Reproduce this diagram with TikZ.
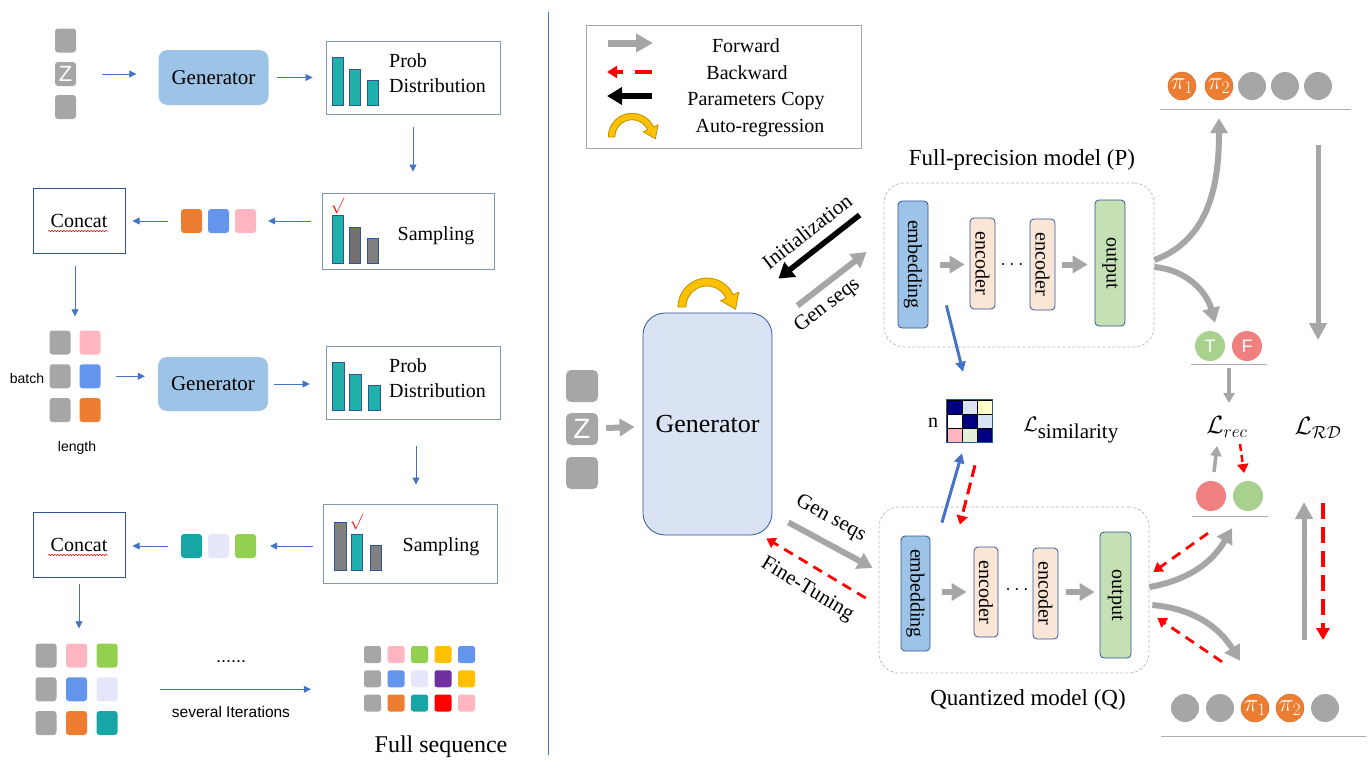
\RequirePackage{fix-cm}
\documentclass[tikz,border=0pt]{standalone}
\usepackage{fontspec}
\setmainfont{Liberation Serif}
\setsansfont{Liberation Sans}
\usetikzlibrary{arrows.meta,calc,decorations.pathmorphing}

\definecolor{flowblue}{HTML}{4472C4}
\definecolor{catblue}{HTML}{2F5597}
\definecolor{boxgray}{HTML}{8497B0}
\definecolor{genfill}{HTML}{9DC3E6}
\definecolor{genlight}{HTML}{DAE3F3}
\definecolor{tgray}{HTML}{A6A6A6}
\definecolor{tpink}{HTML}{FFB6C1}
\definecolor{tblue}{HTML}{6495ED}
\definecolor{torange}{HTML}{ED7D31}
\definecolor{tteal}{HTML}{17A5A5}
\definecolor{tlav}{HTML}{E6E6FA}
\definecolor{tgreen}{HTML}{92D050}
\definecolor{tyellow}{HTML}{FFC000}
\definecolor{tpurple}{HTML}{7030A0}
\definecolor{tred}{HTML}{FF0000}
\definecolor{bteal}{HTML}{20B2AA}
\definecolor{bgray}{HTML}{767171}
\definecolor{fgray}{HTML}{A6A6A6}
\definecolor{argold}{HTML}{FFC000}
\definecolor{encfill}{HTML}{FBE5D6}
\definecolor{outfill}{HTML}{C5E0B4}
\definecolor{tfgreen}{HTML}{A9D18E}
\definecolor{tfred}{HTML}{F08080}
\definecolor{mnavy}{HTML}{000080}
\definecolor{mlblue}{HTML}{DAE3F3}
\definecolor{myellow}{HTML}{FFFFCC}
\definecolor{mlgreen}{HTML}{E2F0D9}

\tikzset{
	tok/.style={rectangle, rounded corners=3pt, minimum width=21pt, minimum height=24pt,
		inner sep=0pt, fill=#1, text=white, font=\sffamily\fontsize{22}{22}\selectfont},
	genbox/.style={rounded corners=9pt, fill=genfill, minimum width=110pt, minimum height=55pt,
		font=\fontsize{21}{24}\selectfont},
	probbox/.style={draw=boxgray, line width=0.9pt, minimum width=174pt, inner sep=0pt},
	catbox/.style={draw=catblue, line width=1pt, minimum width=92pt, minimum height=65pt,
		font=\fontsize{20}{24}\selectfont},
	probbar/.style={draw=catblue, line width=0.8pt},
	lbl/.style={font=\fontsize{20}{25}\selectfont},
	sanslbl/.style={font=\sffamily\fontsize{14}{16}\selectfont},
	flow/.style={draw=flowblue, line width=0.8pt, -{Triangle[length=7pt,width=7pt]}},
	fwd/.style={draw=fgray, line width=#1, -{Triangle[length=15pt,width=17pt]}},
	fwd/.default=6pt,
	backw/.style={draw=red, line width=2.8pt, dash pattern=on 10pt off 7pt,
		-{Triangle[length=9pt,width=11pt]}},
	paramcopy/.style={draw=black, line width=5.5pt, -{Triangle[length=15pt,width=18pt]}},
	simarrow/.style={draw=flowblue, line width=3pt, -{Triangle[length=10pt,width=10pt]}},
	blk/.style={draw=catblue, line width=0.8pt, rounded corners=4pt, inner sep=0pt, fill=#1,
		font=\fontsize{20}{20}\selectfont},
	modelbox/.style={draw=gray!55, dash pattern=on 3pt off 2pt, line width=0.7pt,
		rounded corners=20pt, minimum width=270pt},
	ball/.style={circle, minimum size=28pt, inner sep=0pt, fill=#1, text=white},
	pidot/.style={ball=torange, draw=torange!85!black, font=\fontsize{25}{25}\selectfont},
	tfdot/.style={ball=#1, minimum size=30pt, font=\sffamily\fontsize{18}{18}\selectfont},
	uline/.style={draw=gray!65, line width=0.8pt},
	armlbl/.style={font=\fontsize{21}{21}\selectfont},
	autoreg/.pic={
		\draw[draw=argold!75!black, fill=argold, line width=0.8pt]
		(180:29) arc[start angle=180, end angle=25, radius=29] -- (25:35)
		-- ($(25:25)+(-65:14)$) -- (25:15) -- (25:21)
		arc[start angle=25, end angle=180, radius=21] -- cycle;
	},
}

\begin{document}
\begin{tikzpicture}[x=1pt,y=1pt]
	\useasboundingbox (0,0) rectangle (1370,-771);

	% ---------- left: sampling loop ----------
	\node[tok=tgray] (za1) at (65.5,-40.5) {};
	\node[tok=tgray] (za2) at (65.5,-74) {Z};
	\node[tok=tgray] (za3) at (65.5,-107) {};
	\node[genbox] (gena) at (213.5,-77.5) {Generator};
	\node[probbox, minimum height=73pt] (proba) at (413,-77.5) {};
	\foreach \x/\t in {332/57,349/69,367/80}
		\draw[probbar, fill=bteal] (\x,-\t) rectangle ({\x+11},-105);
	\node[lbl, align=left, anchor=west, inner sep=0pt] at (389,-73.5) {Prob\\Distribution};

	\node[probbox, minimum width=172pt, minimum height=76pt] (sampa) at (408,-231) {};
	\draw[probbar, fill=bteal] (332,-215) rectangle (343,-263);
	\draw[probbar, fill=bgray] (349,-227) rectangle (360,-263);
	\draw[probbar, fill=gray] (367,-238) rectangle (378,-263);
	\node[text=red, font=\fontsize{16}{16}\selectfont] at (337.5,-206) {$\surd$};
	\node[lbl] at (436,-236) {Sampling};

	\foreach \c [count=\i] in {torange,tblue,tpink}
		\node[tok=\c] (ta\i) at ({164.5+27*\i},-221) {};
	\node[catbox] (cata) at (79,-220.5) {Concat};
	\draw[red, line width=0.5pt, decorate, decoration={snake,amplitude=0.7pt,segment length=3pt}]
		(48,-231) -- (108,-231);

	\draw[flow, shorten <=26pt, shorten >=22pt] (za2.east) -- (za2.east -| gena.west);
	\draw[flow, shorten <=8.5pt, shorten >=13pt] (gena.east) -- (proba.west);
	\draw[flow, shorten <=13pt, shorten >=21pt] (proba.south) -- (proba.south |- sampa.north);
	\draw[flow, shorten <=11pt, shorten >=12pt] (sampa.west |- ta3) -- (ta3.east);
	\draw[flow, shorten <=13pt, shorten >=7pt] (ta1.west) -- (ta1.west -| cata.east);

	% ---------- left: second round ----------
	\foreach \row [count=\r from 0] in {{tgray,tpink},{tgray,tblue},{tgray,torange}}
		\foreach \c [count=\k from 0] in \row
			\node[tok=\c] (bg\r\k) at ({60+30*\k},{-342.5-33.75*\r}) {};
	\node[sanslbl] at (27,-378) {batch};
	\node[sanslbl] at (77,-448) {length};
	\draw[flow, shorten <=12pt, shorten >=14pt] ([xshift=-4pt]cata.south) -- ([xshift=-4pt]cata.south |- bg01.north);

	\node[genbox, minimum height=54pt] (genb) at (213,-384) {Generator};
	\node[probbox, minimum height=73pt] (probb) at (413,-382.5) {};
	\foreach \x/\t in {332/362,349/374,368/385}
		\draw[probbar, fill=bteal] (\x,-\t) rectangle ({\x+12},-410);
	\node[lbl, align=left, anchor=west, inner sep=0pt] at (389,-378.5) {Prob\\Distribution};

	\node[probbox, minimum width=174pt, minimum height=79pt] (sampb) at (410,-543.5) {};
	\draw[probbar, fill=gray] (334,-522) rectangle (346,-570);
	\draw[probbar, fill=bteal] (351,-534) rectangle (362,-570);
	\draw[probbar, fill=gray] (370,-545) rectangle (381,-570);
	\node[text=red, font=\fontsize{16}{16}\selectfont] at (356.5,-522) {$\surd$};
	\node[lbl] at (441,-547) {Sampling};

	\foreach \c [count=\i] in {tteal,tlav,tgreen}
		\node[tok=\c] (tb\i) at ({164.5+27*\i},-546) {};
	\node[catbox] (catb) at (79,-544.5) {Concat};
	\draw[red, line width=0.5pt, decorate, decoration={snake,amplitude=0.7pt,segment length=3pt}]
		(48,-555) -- (108,-555);

	\draw[flow, shorten <=15pt, shorten >=13pt] (bg11.east) -- (bg11.east -| genb.west);
	\draw[flow, shorten <=6pt, shorten >=16pt] (genb.east) -- (genb.east -| probb.west);
	\draw[flow, shorten <=27pt, shorten >=19pt] ([xshift=3pt]probb.south) -- ([xshift=3pt]probb.south |- sampb.north);
	\draw[flow, shorten <=10pt, shorten >=14pt] (sampb.west |- tb3) -- (tb3.east);
	\draw[flow, shorten <=13pt, shorten >=7pt] (tb1.west) -- (tb1.west -| catb.east);

	% ---------- left: after several iterations ----------
	\foreach \row [count=\r from 0] in {{tgray,tpink,tgreen},{tgray,tblue,tlav},{tgray,torange,tteal}}
		\foreach \c [count=\k from 0] in \row
			\node[tok=\c] (gc\r\k) at ({46+30.5*\k},{-655.5-33.75*\r}) {};
	\draw[flow, shorten <=6pt, shorten >=15pt] (catb.south) -- (catb.south |- gc01.north);

	\foreach \row [count=\r from 0] in {{tgray,tpink,tgreen,tyellow,tblue},{tgray,tblue,tlav,tpurple,tyellow},{tgray,torange,tteal,tred,tpink}}
		\foreach \c [count=\k from 0] in \row
			\node[tok=\c, minimum width=17pt, minimum height=17pt, rounded corners=2.5pt]
				(fs\r\k) at ({372.5+23.5*\k},{-654.5-24.25*\r}) {};
	\draw[flow, shorten <=42pt, shorten >=53pt] (gc12.east) -- (gc12.east -| fs10.west);
	\node[sanslbl, font=\sffamily\fontsize{18}{18}\selectfont] at (231,-662) {......};
	\node[sanslbl, font=\sffamily\fontsize{15.5}{16}\selectfont] at (231,-712) {several Iterations};
	\node[font=\fontsize{24}{24}\selectfont] at (441,-747) {Full sequence};

	\draw[flowblue, line width=1pt] (548,-12) -- (548,-755);

	% ---------- right: legend ----------
	\node[draw=fgray, line width=1pt, minimum width=275pt, minimum height=123pt] (legend) at (723.5,-86.5) {};
	\draw[fwd=7pt, -{Triangle[length=17pt,width=18pt]}] (608,-43) -- (653,-43);
	\draw[backw, line width=4pt, dash pattern=on 17pt off 12pt, -{Triangle[length=10pt,width=12pt]}] (652,-72) -- (607,-72);
	\draw[paramcopy, line width=6pt, -{Triangle[length=15pt,width=17pt]}] (652,-96) -- (607,-96);
	\pic[scale=0.82] at (632,-137) {autoreg};
	\node[lbl] at (746,-46) {Forward};
	\node[lbl] at (747,-73) {Backward};
	\node[lbl] at (756,-101) {Parameters Copy};
	\node[lbl] at (760,-128) {Auto-regression};

	% ---------- right: generator ----------
	\node[tok=tgray, minimum width=32pt, minimum height=32pt, rounded corners=5pt] (zb1) at (582,-386) {};
	\node[tok=tgray, minimum width=32pt, minimum height=32pt, rounded corners=5pt,
		font=\sffamily\fontsize{28}{28}\selectfont] (zb2) at (582,-429) {Z};
	\node[tok=tgray, minimum width=32pt, minimum height=32pt, rounded corners=5pt] (zb3) at (582,-473) {};
	\node[draw=catblue, line width=0.8pt, fill=genlight, rounded corners=22pt, minimum width=129pt,
		minimum height=222pt, font=\fontsize{26}{26}\selectfont] (gen) at (707.5,-424) {Generator};
	\draw[fwd, shorten <=8pt, shorten >=8pt] (zb2) -- (gen);
	\pic at (707,-307) {autoreg};

	% ---------- right: full-precision model ----------
	\node[font=\fontsize{23}{23}\selectfont] (ptitle) at (1022,-160) {Full-precision model (P)};
	\node[modelbox, minimum height=164pt] (pbox) at (1019,-265) {};
	\node[blk=genfill, minimum width=30pt, minimum height=127pt] (pemb) at (913,-264.5) {\rotatebox{-90}{embedding}};
	\node[blk=encfill, minimum width=25pt, minimum height=91pt] (penc1) at (982.5,-263.5) {\rotatebox{-90}{encoder}};
	\node[font=\fontsize{20}{20}\selectfont] at (1012,-265) {$\cdots$};
	\node[blk=encfill, minimum width=25pt, minimum height=91pt] (penc2) at (1042.5,-264.5) {\rotatebox{-90}{encoder}};
	\node[blk=outfill, minimum width=30pt, minimum height=126pt] (pout) at (1110,-263) {\rotatebox{-90}{output}};
	\draw[fwd, shorten <=12pt, shorten >=5pt] (pemb.east) -- (pemb.east -| penc1.west);
	\draw[fwd, shorten <=7pt, shorten >=7pt] (penc2.east) -- (penc2.east -| pout.west);

	% ---------- right: quantized model ----------
	\node[font=\fontsize{23}{23}\selectfont] (qtitle) at (1028,-700) {Quantized model (Q)};
	\node[modelbox, minimum height=166pt] (qbox) at (1014,-590) {};
	\node[blk=genfill, minimum width=29pt, minimum height=115pt] (qemb) at (915.5,-593.5) {\rotatebox{-90}{embedding}};
	\node[blk=encfill, minimum width=24pt, minimum height=90pt] (qenc1) at (986,-592) {\rotatebox{-90}{encoder}};
	\node[font=\fontsize{20}{20}\selectfont] at (1017,-590) {$\cdots$};
	\node[blk=encfill, minimum width=25pt, minimum height=91pt] (qenc2) at (1045.5,-593.5) {\rotatebox{-90}{encoder}};
	\node[blk=outfill, minimum width=31pt, minimum height=126pt] (qout) at (1115.5,-595) {\rotatebox{-90}{output}};
	\draw[fwd, shorten <=12pt, shorten >=7pt] (qemb.east |- qenc1) -- (qenc1.west);
	\draw[fwd, shorten <=8pt, shorten >=5pt] (qenc2.east |- qenc1) -- (qenc1 -| qout.west);

	% generator <-> models
	\draw[paramcopy] ([shift={(-24,50)}]pbox.west) -- node[sloped, above=6pt, armlbl] {Initialization}
		([shift={(6,34)}]gen.north east);
	\draw[fwd] ([shift={(25,7)}]gen.north east) -- node[sloped, pos=0.27, below=3pt, armlbl] {Gen seqs}
		([shift={(-17,13)}]pbox.west);
	\draw[fwd] ([shift={(16,13)}]gen.south east) -- node[sloped, pos=0.37, above=8pt, armlbl] {Gen seqs}
		([shift={(-6,22)}]qbox.west);
	\draw[backw] ([shift={(-13,-8)}]qbox.west) -- node[sloped, pos=0.47, below=9pt, armlbl] {Fine-Tuning}
		([shift={(-6,-3)}]gen.south east);

	% ---------- similarity matrix ----------
	\node[minimum width=45pt, minimum height=42pt, inner sep=0pt] (sim) at (969.5,-421) {};
	\foreach \row [count=\r from 0] in {{mnavy,mlblue,myellow},{white,mnavy,mlblue},{tpink,mlgreen,mnavy}}
		\foreach \c [count=\k from 0] in \row
			\fill[\c] ({947+15*\k},{-400-14*\r}) rectangle ++(15,-14);
	\draw[black, line width=0.6pt, shift={(947,-442)}] (0,0) grid[xstep=15, ystep=14] (45,42);
	\draw[catblue, line width=1pt] (sim.south west) rectangle (sim.north east);
	\node[lbl] at (933,-423) {n};
	\node[font=\fontsize{21}{21}\selectfont] (lsim) at (1071,-430) {$\mathcal{L}_{\textstyle\mathrm{similarity}}$};
	\draw[simarrow] ([shift={(18,23)}]pemb.south east) -- ([shift={(-6.5,28)}]sim.north);
	\draw[simarrow] ([shift={(11.5,13)}]qemb.north east) -- ([shift={(-7.5,-11)}]sim.south);
	\draw[backw, line width=3pt, dash pattern=on 12pt off 6pt] ([shift={(5.5,-23)}]sim.south) -- ([shift={(29.5,11)}]qemb.north east);

	% ---------- outputs and losses ----------
	\node[pidot] (tp1) at (1182,-86) {$\pi_1$};
	\node[pidot] (tp2) at (1219,-86) {$\pi_2$};
	\foreach \x [count=\i from 3] in {1252,1285,1318}
		\node[ball=tgray] (tp\i) at (\x,-86) {};
	\draw[uline] (1160,-109) -- (1351,-109);

	\node[tfdot=tfgreen] (tt) at (1210,-346) {T};
	\node[tfdot=tfred] (tf) at (1247,-346) {F};
	\draw[uline] (1191,-364) -- (1267,-364);

	\node[font=\fontsize{25}{25}\selectfont] (lrec) at (1227,-427) {$\mathcal{L}_{rec}$};
	\node[font=\fontsize{25}{25}\selectfont] (lrd) at (1318,-428) {$\mathcal{L}_{\mathcal{RD}}$};

	\node[tfdot=tfred] (rr) at (1211,-496) {};
	\node[tfdot=tfgreen] (rg) at (1248,-496) {};
	\draw[uline] (1192,-516) -- (1268,-516);

	\node[ball=tgray] (bp1) at (1185,-708) {};
	\node[ball=tgray] (bp2) at (1220,-708) {};
	\node[pidot] (bp3) at (1255,-708) {$\pi_1$};
	\node[pidot] (bp4) at (1290,-708) {$\pi_2$};
	\node[ball=tgray] (bp5) at (1325,-708) {};
	\draw[uline] (1161,-736) -- (1366,-736);

	\draw[fwd] ([yshift=5pt]pbox.east) to[out=20, in=-90] ([yshift=-18pt]tp2.south);
	\draw[fwd] ([yshift=-2pt]pbox.east) to[out=-5, in=105] ([shift={(5,8)}]tt.north);
	\draw[fwd=5pt, -{Triangle[length=17pt,width=17pt]}] ([yshift=-45pt]tp5.south) -- ([yshift=88pt]lrd.center);
	\draw[fwd=3.5pt, -{Triangle[length=10pt,width=11pt]}] ([shift={(2,59)}]lrec.center) -- ([shift={(2,24)}]lrec.center);

	\draw[fwd=3.5pt, -{Triangle[length=10pt,width=11pt]}] ([shift={(-13,-45)}]lrec.center) -- ([shift={(-10,-19)}]lrec.center);
	\draw[backw, line width=2.5pt, dash pattern=on 7pt off 4pt] ([shift={(13,-17)}]lrec.center) -- ([shift={(17,-46)}]lrec.center);

	\draw[fwd] ([yshift=3pt]qbox.east) to[out=10, in=240] ([shift={(21,-17)}]rr.south);
	\draw[backw] ([shift={(-3,-22)}]rr.south) -- ([shift={(4,18)}]qbox.east);
	\draw[fwd] ([shift={(3,-15)}]qbox.east) to[out=-5, in=122] ([shift={(20,33)}]bp2.north);
	\draw[backw] ([shift={(2,32)}]bp2.north) -- ([shift={(8,-28)}]qbox.east);

	\draw[fwd=5pt, -{Triangle[length=17pt,width=17pt]}] ([shift={(-14,-212)}]lrd.center) -- ([shift={(-14,-74)}]lrd.center);
	\draw[backw, line width=4pt, dash pattern=on 16pt off 8pt, -{Triangle[length=12pt,width=13pt]}]
		([shift={(5,-75)}]lrd.center) -- ([shift={(5,-212)}]lrd.center);
\end{tikzpicture}
\end{document}
